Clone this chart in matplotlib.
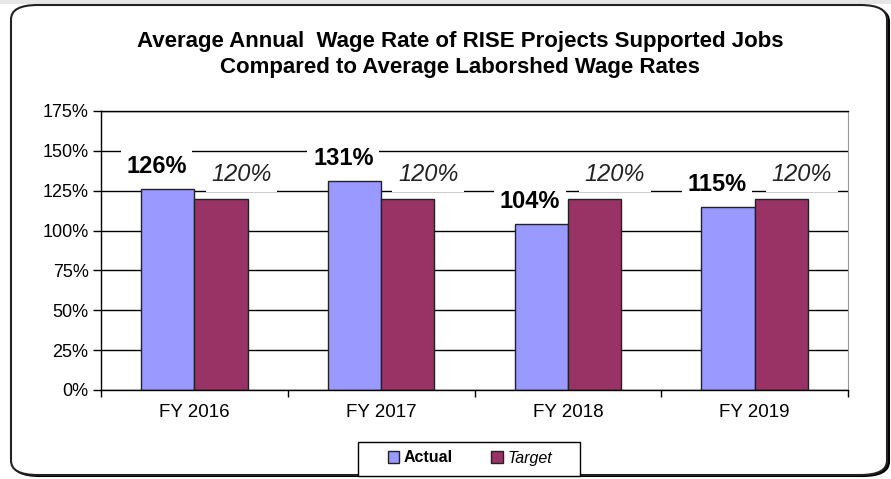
import numpy as np
import matplotlib.pyplot as plt
from matplotlib.patches import FancyBboxPatch, Rectangle

# Chart data
categories = ['FY 2016', 'FY 2017', 'FY 2018', 'FY 2019']
actual = [126, 131, 104, 115]
target = [120, 120, 120, 120]
y_ticks = [0, 25, 50, 75, 100, 125, 150, 175]

plt.rcParams['font.family'] = ['Liberation Sans', 'DejaVu Sans']

fig = plt.figure(figsize=(8.91, 4.79), dpi=100)
fig.patch.set_facecolor('white')

# grey strip at the top and the rounded chart frame with a dark shadow
fig.patches.append(Rectangle((0, 1 - 4 / 479), 1, 4 / 479, transform=fig.transFigure,
                             facecolor='#e6e6e6', edgecolor='none', zorder=0))
shadow = FancyBboxPatch((13 / 891, 3 / 479), 876 / 891, 469 / 479,
                        boxstyle='round,pad=0,rounding_size=0.03', transform=fig.transFigure,
                        facecolor='black', edgecolor='black', linewidth=1.5, zorder=0)
frame = FancyBboxPatch((11 / 891, 4 / 479), 876 / 891, 470 / 479,
                       boxstyle='round,pad=0,rounding_size=0.03', transform=fig.transFigure,
                       facecolor='white', edgecolor='#222222', linewidth=1.5, zorder=0.5)
fig.patches.extend([shadow, frame])
# legend box
fig.patches.append(Rectangle((358 / 891, 1 - 476 / 479), 222 / 891, 34 / 479, transform=fig.transFigure,
                             facecolor='white', edgecolor='black', linewidth=1, zorder=1))

ax = fig.add_axes([101 / 891, 89 / 479, 747 / 891, 279 / 479])
ax.set_zorder(2)
ax.set_facecolor('none')

x = np.arange(len(categories))
w = 0.285
ax.bar(x - w / 2, actual, w, color='#9999ff', edgecolor='#222222', linewidth=1, zorder=2, label='Actual')
ax.bar(x + w / 2, target, w, color='#993366', edgecolor='#222222', linewidth=1, zorder=2, label='Target')

for i in range(len(categories)):
    ax.text(x[i] - w / 2 - 0.06, actual[i] + 14, f'{actual[i]}%', ha='center', va='center',
            fontsize=17, fontweight='bold', zorder=4,
            bbox=dict(facecolor='white', edgecolor='none', pad=4))
    ax.text(x[i] + w / 2 + 0.11, target[i] + 15, f'{target[i]}%', ha='center', va='center',
            fontsize=17, fontstyle='italic', color='#222222', zorder=4,
            bbox=dict(facecolor='white', edgecolor='none', pad=4))

ax.set_xlim(-0.5, len(categories) - 0.5)
ax.set_ylim(0, 175)
ax.set_yticks(y_ticks)
ax.set_yticklabels([f'{v}%' for v in y_ticks], fontsize=13)
ax.set_xticks(x)
ax.set_xticklabels(categories, fontsize=13.5)
ax.set_xticks(np.arange(-0.5, len(categories)), minor=True)
ax.tick_params(axis='x', which='major', length=0, pad=10)
ax.tick_params(axis='x', which='minor', length=5, direction='out', width=1, color='black')
ax.tick_params(axis='y', length=6, direction='out', width=1, color='black', pad=3)

ax.yaxis.grid(True, color='black', linewidth=1)
ax.set_axisbelow(True)
for s in ['left', 'bottom', 'top']:
    ax.spines[s].set_color('black')
    ax.spines[s].set_linewidth(1)
ax.spines['right'].set_color('#999999')

fig.text(460 / 891, 1 - 41 / 479, 'Average Annual  Wage Rate of RISE Projects Supported Jobs',
         ha='center', va='center', fontsize=16, fontweight='bold')
fig.text(460 / 891, 1 - 67 / 479, 'Compared to Average Laborshed Wage Rates',
         ha='center', va='center', fontsize=16, fontweight='bold')

leg = fig.legend(loc='center', bbox_to_anchor=(470 / 891, 1 - 458 / 479), ncol=2, fontsize=11.5,
                 frameon=False, handlelength=0.7, handleheight=0.7, columnspacing=2.4,
                 handletextpad=0.3)
leg.set_zorder(3)
leg.get_texts()[0].set_fontweight('bold')
leg.get_texts()[1].set_fontstyle('italic')

fig.savefig('out.png', dpi=100)
